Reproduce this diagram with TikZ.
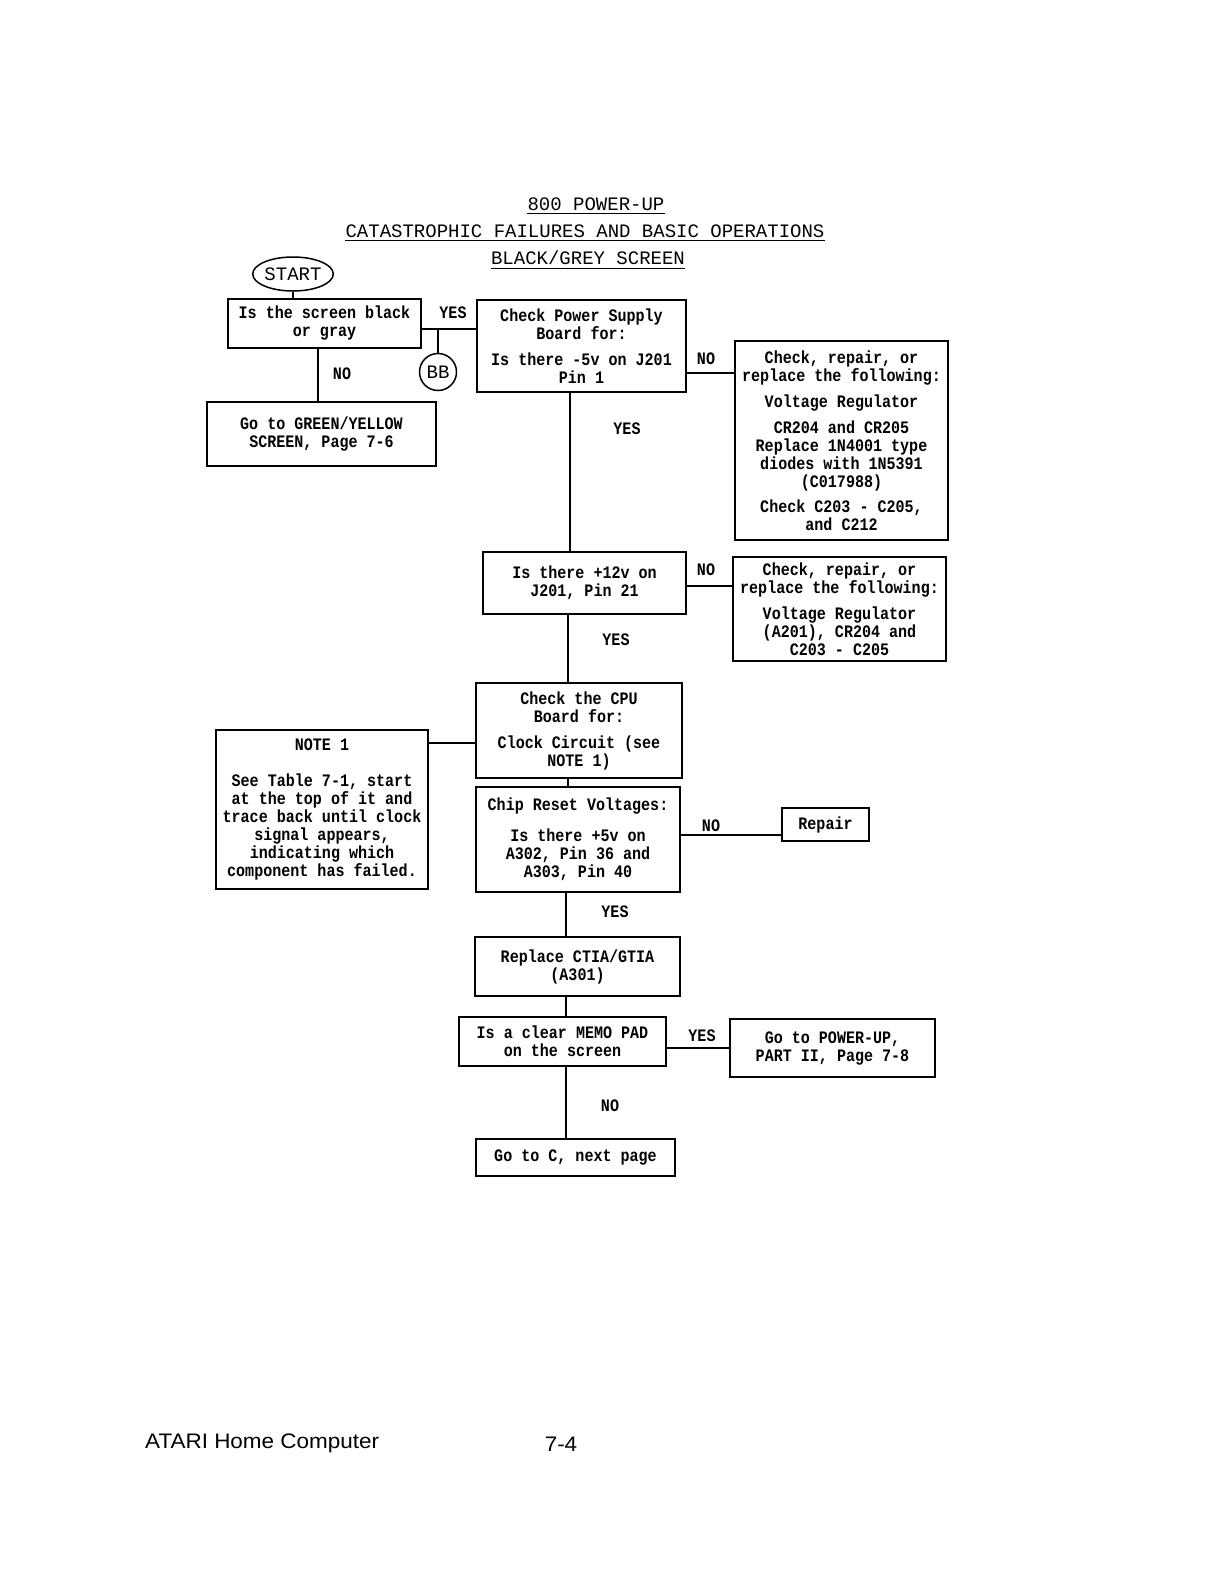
\documentclass[tikz,border=0pt]{standalone}
\usepackage{fontspec}
\newfontfamily\boxf{Liberation Mono}[FakeStretch=0.86]
\newfontfamily\titf{Liberation Mono}
\newfontfamily\footf{Liberation Sans}[FakeStretch=1.07]
\usetikzlibrary{shapes.geometric}
\begin{document}
\begin{tikzpicture}[x=1pt,y=-1pt,
  box/.style={draw, line width=1.7pt, align=center, inner sep=0pt, font=\boxf\bfseries\fontsize{17.5}{18}\selectfont},
  lbl/.style={font=\boxf\bfseries\fontsize{17.5}{18}\selectfont, inner sep=0pt},
  ttl/.style={font=\titf\fontsize{19}{19}\selectfont, inner sep=0pt},
  conn/.style={line width=1.7pt},
  uline/.style={line width=1.3pt}]
\useasboundingbox (0,0) rectangle (1224,1582);
\fill[white] (0,0) rectangle (1224,1582);

% titles
\node[ttl] (t1) at (596,204) {800 POWER-UP};
\node[ttl] (t2) at (585,231) {CATASTROPHIC FAILURES AND BASIC OPERATIONS};
\node[ttl] (t3) at (588,258) {BLACK/GREY SCREEN};
\foreach \q in {t1,t2,t3}{
  \draw[uline] ([yshift=-3pt]\q.south west) -- ([yshift=-3pt]\q.south east);
}

% start and connector
\node[draw, ellipse, line width=1.5pt, minimum width=78pt, minimum height=34pt, inner sep=0pt, ttl] (start) at (293,274) {START};
\node[draw, circle, line width=1.5pt, minimum size=37pt, inner sep=0pt, ttl] (bb) at (438,372) {BB};

% boxes
\node[box, minimum width=193pt, minimum height=49pt] (A) at (324.5,323.5) {Is the screen black\\or gray};
\node[box, minimum width=209pt, minimum height=92pt] (B) at (581.5,346) {Check Power Supply\\Board for:\\[8pt]Is there -5v on J201\\Pin 1};
\node[box, minimum width=213pt, minimum height=199pt] (C) at (841.5,440.5) {Check, repair, or\\replace the following:\\[8pt]Voltage Regulator\\[8pt]CR204 and CR205\\Replace 1N4001 type\\diodes with 1N5391\\(C017988)\\[7pt]Check C203 - C205,\\and C212};
\node[box, minimum width=229pt, minimum height=64pt] (D) at (321.5,434) {Go to GREEN/YELLOW\\SCREEN, Page 7-6};
\node[box, minimum width=203pt, minimum height=62pt] (E) at (584.5,583) {Is there +12v on\\J201, Pin 21};
\node[box, minimum width=213pt, minimum height=104pt] (F) at (839.5,609) {Check, repair, or\\replace the following:\\[8pt]Voltage Regulator\\(A201), CR204 and\\C203 - C205};
\node[box, minimum width=206pt, minimum height=95pt] (G) at (579,730.5) {Check the CPU\\Board for:\\[8pt]Clock Circuit (see\\NOTE 1)};
\node[box, minimum width=212pt, minimum height=159pt] (H) at (322,809.5) {NOTE 1\\[18pt]See Table 7-1, start\\at the top of it and\\trace back until clock\\signal appears,\\indicating which\\component has failed.};
\node[box, minimum width=204pt, minimum height=105pt] (I) at (578,839.5) {Chip Reset Voltages:\\[13pt]Is there +5v on\\A302, Pin 36 and\\A303, Pin 40};
\node[box, minimum width=87pt, minimum height=33pt] (R) at (825.5,824.5) {Repair};
\node[box, minimum width=205pt, minimum height=59pt] (J) at (577.5,966.5) {Replace CTIA/GTIA\\(A301)};
\node[box, minimum width=207pt, minimum height=49pt] (K) at (562.5,1041.5) {Is a clear MEMO PAD\\on the screen};
\node[box, minimum width=205pt, minimum height=58pt] (L) at (832.5,1048) {Go to POWER-UP,\\PART II, Page 7-8};
\node[box, minimum width=199pt, minimum height=37pt] (M) at (575.5,1157.5) {Go to C, next page};

% connectors
\draw[conn] (start.south) -- (start.south |- A.north);
\coordinate (ya) at (0,329);
\draw[conn] (A.east |- ya) -- (B.west |- ya);
\coordinate (j) at (438,329);
\draw[conn] (j) -- (bb.north);
\coordinate (xa) at (318,0);
\draw[conn] (xa |- A.south) -- (xa |- D.north);
\coordinate (yb) at (0,373);
\draw[conn] (B.east |- yb) -- (C.west |- yb);
\coordinate (xb) at (570,0);
\draw[conn] (xb |- B.south) -- (xb |- E.north);
\coordinate (ye) at (0,586);
\draw[conn] (E.east |- ye) -- (F.west |- ye);
\coordinate (xe) at (568,0);
\draw[conn] (xe |- E.south) -- (xe |- G.north);
\coordinate (yh) at (0,743);
\draw[conn] (H.east |- yh) -- (G.west |- yh);
\draw[conn] (xe |- G.south) -- (xe |- I.north);
\coordinate (yi) at (0,835);
\draw[conn] (I.east |- yi) -- (R.west |- yi);
\coordinate (xi) at (566,0);
\draw[conn] (xi |- I.south) -- (xi |- J.north);
\draw[conn] (xi |- J.south) -- (xi |- K.north);
\coordinate (yk) at (0,1048);
\draw[conn] (K.east |- yk) -- (L.west |- yk);
\draw[conn] (xi |- K.south) -- (xi |- M.north);

% labels
\node[lbl] (l1) at (453,313) {YES};
\node[lbl] (l2) at (342,374) {NO};
\node[lbl] (l3) at (706,359) {NO};
\node[lbl] (l4) at (627,429) {YES};
\node[lbl] (l5) at (706,570) {NO};
\node[lbl] (l6) at (616,640) {YES};
\node[lbl] (l7) at (711,826) {NO};
\node[lbl] (l8) at (615,912) {YES};
\node[lbl] (l9) at (702,1036) {YES};
\node[lbl] (l10) at (610,1106) {NO};

% footer
\node[font=\footf\fontsize{21}{21}\selectfont, inner sep=0pt, anchor=west] (f1) at (145,1443) {ATARI Home Computer};
\node[font=\footf\fontsize{21}{21}\selectfont, inner sep=0pt] (f2) at (561,1444) {7-4};
\end{tikzpicture}
\end{document}
